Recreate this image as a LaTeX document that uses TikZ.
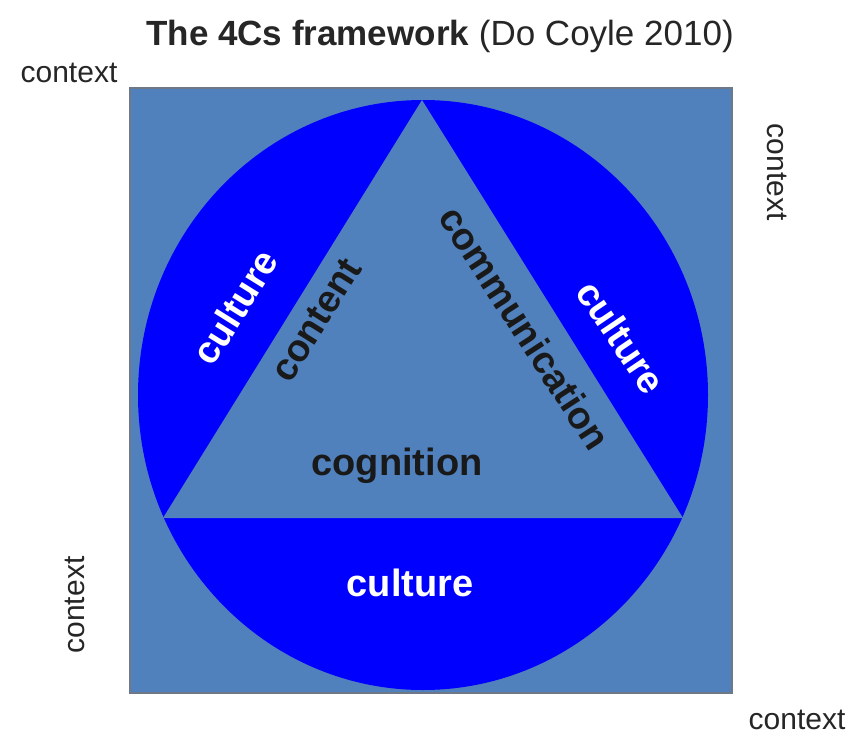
\documentclass[tikz,border=0pt]{standalone}
\usepackage{fontspec}
\setmainfont{Liberation Sans}
\definecolor{sqblue}{RGB}{80,129,189}
\definecolor{circblue}{RGB}{0,0,255}
\definecolor{edgegray}{RGB}{110,120,135}
\tikzset{
  ctx/.style={font=\fontsize{30}{30}\selectfont, text=black!85, inner sep=0pt},
  inlabel/.style={font=\fontsize{38}{38}\selectfont\bfseries, inner sep=0pt},
  culturelbl/.style={inlabel, text=white},
  clbl/.style={inlabel, text=black!90}
}
\begin{document}
\begin{tikzpicture}[x=1pt,y=-1pt]
\useasboundingbox (0,0) rectangle (852,737);
\fill[white] (0,0) rectangle (852,737);
% square
\draw[fill=sqblue, draw=edgegray, line width=1.2] (130,88) rectangle (732,693);
% circle
\fill[circblue] (423,395) ellipse [x radius=285, y radius=295];
% triangle
\fill[sqblue] (422,100) -- (163,518) -- (683,518) -- cycle;
% title
\node[inner sep=0pt, font=\fontsize{35}{35}\selectfont, text=black!85] (title) at (440,36) {\textbf{The 4Cs framework} (Do Coyle 2010)};
% context labels
\node[ctx] (ctxtl) at (69,73) {context};
\node[ctx, rotate=-90] (ctxr) at (777,172) {context};
\node[ctx, rotate=90] (ctxbl) at (75,605) {context};
\node[ctx] (ctxbr) at (797,720) {context};
% inner labels
\node[culturelbl, rotate=58] (culL) at (235,307) {culture};
\node[culturelbl, rotate=-56] (culR) at (621,337) {culture};
\node[culturelbl] (culB) at (410,583) {culture};
\node[clbl, rotate=58] (content) at (316,320) {content};
\node[clbl, rotate=-57] (comm) at (525,328) {communication};
\node[clbl] (cog) at (397,466) {cognition};
\end{tikzpicture}
\end{document}
